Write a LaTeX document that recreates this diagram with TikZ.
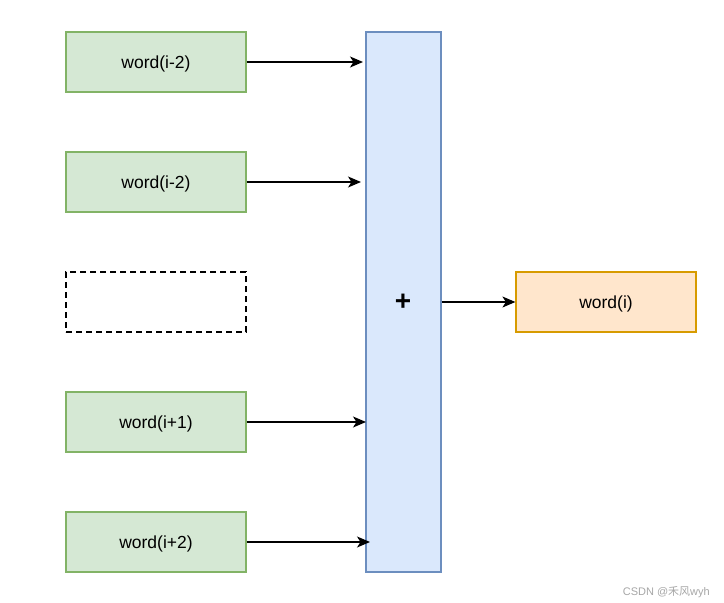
\documentclass[tikz,border=0pt]{standalone}
\usepackage{fontspec}
\setmainfont{Liberation Sans}
\newfontfamily\cjk{Noto Sans CJK SC}
\usetikzlibrary{arrows.meta}
\definecolor{gfill}{HTML}{D5E8D4}
\definecolor{gline}{HTML}{82B366}
\definecolor{bfill}{HTML}{DAE8FC}
\definecolor{bline}{HTML}{6C8EBF}
\definecolor{ofill}{HTML}{FFE6CC}
\definecolor{oline}{HTML}{D79B00}
\begin{document}
\begin{tikzpicture}[x=1pt,y=-1pt,
  wordbox/.style={draw=gline,fill=gfill,line width=1.2pt,minimum width=180pt,minimum height=60pt,inner sep=0pt,text depth=0pt,font=\fontsize{17.5}{20}\selectfont},
  emptybox/.style={draw=black,dash pattern=on 6pt off 4pt,line width=1.2pt,minimum width=180pt,minimum height=60pt,inner sep=0pt},
  sumbox/.style={draw=bline,fill=bfill,line width=1.2pt,minimum width=75pt,minimum height=540pt,inner sep=0pt},
  outbox/.style={draw=oline,fill=ofill,line width=1.2pt,minimum width=180pt,minimum height=60pt,inner sep=0pt,text depth=0pt,font=\fontsize{17.5}{20}\selectfont},
  conn/.style={draw=black,line width=1.2pt,-{Stealth[length=13pt,width=11pt,inset=3.5pt]}}]
\useasboundingbox (0,0) rectangle (724,603);
\node[wordbox] (w1) at (156,62) {word(i-2)};
\node[wordbox] (w2) at (156,182) {word(i-2)};
\node[emptybox] (w3) at (156,302) {};
\node[wordbox] (w4) at (156,422) {word(i+1)};
\node[wordbox] (w5) at (156,542) {word(i+2)};
\node[sumbox] (s) at (403.5,302) {};
\node[font=\fontsize{28}{30}\selectfont\bfseries] (plus) at (403,302) {+};
\node[outbox] (o) at (606,302) {word(i)};
\coordinate (e1) at (363,62);
\coordinate (e2) at (361,182);
\coordinate (e4) at (366,422);
\coordinate (e5) at (370,542);
\draw[conn] (w1.east) -- (e1);
\draw[conn] (w2.east) -- (e2);
\draw[conn] (w4.east) -- (e4);
\draw[conn] (w5.east) -- (e5);
\draw[conn] (s.east) -- (o.west);
\node[anchor=base east,text=black!35,font=\fontsize{11}{13}\selectfont,inner sep=0pt] (wm) at (710,595) {CSDN @{\cjk 禾风}wyh};
\end{tikzpicture}
\end{document}
